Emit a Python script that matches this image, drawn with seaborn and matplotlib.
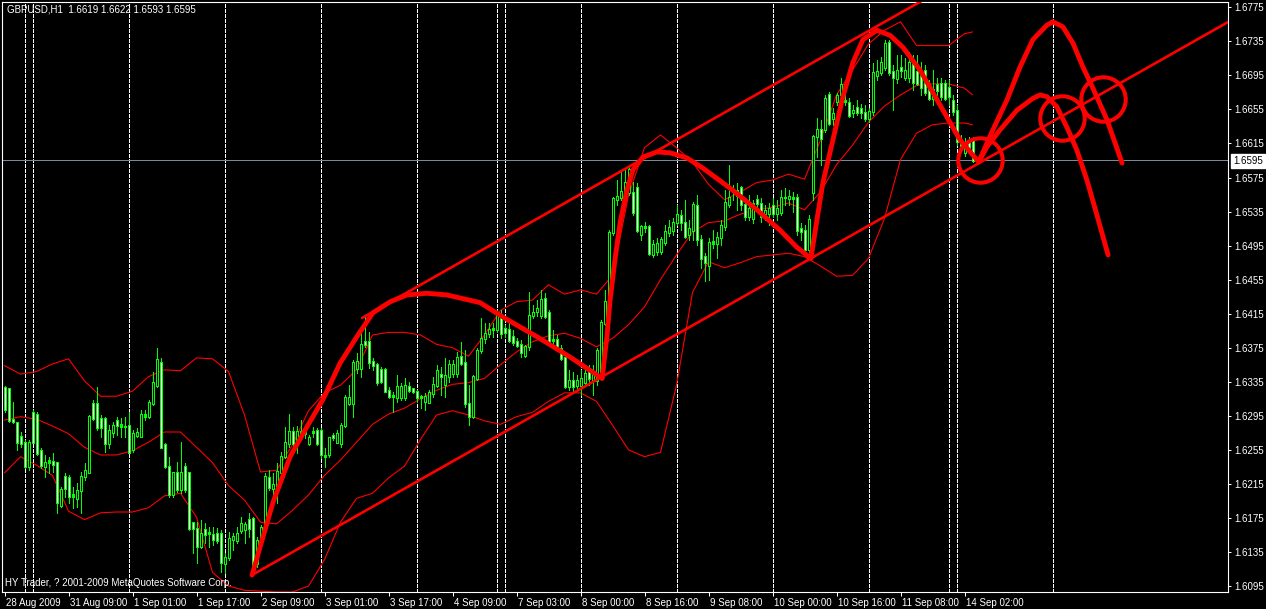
import matplotlib
matplotlib.use("Agg")
import matplotlib.pyplot as plt
import matplotlib.transforms as mtransforms
import numpy as np
import seaborn as sns

# ---------------- data ----------------
# Hourly GBPUSD quotes written in pips: 6328 means 1.6328
open_pips = [
    6328, 6327, 6291, 6287, 6271, 6264, 6236, 6299, 6297, 6254,
    6236, 6242, 6241, 6240, 6190, 6224, 6223, 6200, 6198, 6207,
    6224, 6228, 6310, 6309, 6292, 6292, 6263, 6275, 6290, 6285,
    6283, 6284, 6255, 6272, 6271, 6294, 6294, 6310, 6331, 6358,
    6261, 6236, 6203, 6228, 6208, 6235, 6228, 6170, 6163, 6141,
    6161, 6158, 6156, 6157, 6157, 6122, 6129, 6150, 6149, 6160,
    6162, 6173, 6174, 6122, 6146, 6164, 6223, 6210, 6210, 6228,
    6247, 6262, 6277, 6261, 6276, 6275, 6263, 6276, 6278, 6278,
    6247, 6250, 6272, 6264, 6263, 6284, 6310, 6310, 6351, 6351,
    6382, 6382, 6359, 6355, 6350, 6349, 6325, 6318, 6316, 6316,
    6316, 6330, 6327, 6323, 6318, 6312, 6311, 6321, 6331, 6344,
    6332, 6341, 6345, 6345, 6365, 6358, 6310, 6294, 6339, 6372,
    6386, 6392, 6396, 6396, 6413, 6398, 6396, 6388, 6382, 6379,
    6366, 6376, 6413, 6417, 6413, 6433, 6416, 6385, 6385, 6374,
    6363, 6329, 6336, 6331, 6331, 6334, 6347, 6337, 6337, 6347,
    6404, 6429, 6510, 6549, 6551, 6551, 6557, 6557, 6563, 6508,
    6517, 6517, 6484, 6488, 6488, 6499, 6510, 6513, 6522, 6530,
    6522, 6508, 6513, 6542, 6502, 6482, 6472, 6498, 6498, 6505,
    6517, 6543, 6560, 6560, 6563, 6543, 6529, 6527, 6549, 6545,
    6533, 6533, 6542, 6533, 6534, 6551, 6550, 6552, 6551, 6515,
    6513, 6490, 6557, 6623, 6631, 6631, 6672, 6644, 6664, 6672,
    6666, 6663, 6651, 6657, 6656, 6651, 6644, 6652, 6695, 6698,
    6704, 6734, 6699, 6691, 6704, 6693, 6692, 6710, 6699, 6701,
    6701, 6680, 6668, 6684, 6685, 6685, 6681, 6666, 6654, 6619,
    6604, 6618, 6619]
high_pips = [
    6330, 6328, 6311, 6288, 6276, 6267, 6267, 6302, 6299, 6257,
    6249, 6247, 6251, 6241, 6211, 6228, 6225, 6211, 6216, 6229,
    6240, 6296, 6314, 6329, 6296, 6294, 6284, 6288, 6294, 6292,
    6294, 6299, 6278, 6281, 6302, 6302, 6314, 6347, 6375, 6363,
    6263, 6247, 6229, 6241, 6264, 6240, 6229, 6170, 6170, 6173,
    6169, 6164, 6164, 6163, 6161, 6134, 6158, 6157, 6164, 6176,
    6170, 6181, 6176, 6153, 6167, 6228, 6231, 6228, 6240, 6252,
    6282, 6297, 6282, 6283, 6290, 6282, 6272, 6282, 6281, 6281,
    6257, 6270, 6275, 6278, 6287, 6319, 6331, 6361, 6369, 6392,
    6411, 6393, 6363, 6357, 6352, 6351, 6329, 6323, 6343, 6334,
    6339, 6335, 6328, 6325, 6319, 6322, 6325, 6341, 6355, 6352,
    6363, 6361, 6361, 6370, 6382, 6372, 6331, 6343, 6375, 6410,
    6404, 6404, 6404, 6419, 6419, 6402, 6408, 6396, 6386, 6384,
    6378, 6441, 6425, 6431, 6443, 6439, 6419, 6396, 6390, 6378,
    6366, 6349, 6347, 6343, 6349, 6349, 6355, 6355, 6375, 6408,
    6443, 6513, 6552, 6572, 6584, 6586, 6587, 6570, 6569, 6519,
    6523, 6519, 6502, 6504, 6505, 6519, 6525, 6527, 6543, 6537,
    6549, 6525, 6546, 6554, 6508, 6486, 6504, 6513, 6511, 6525,
    6560, 6590, 6566, 6569, 6565, 6551, 6554, 6549, 6554, 6551,
    6543, 6545, 6551, 6549, 6560, 6563, 6560, 6558, 6556, 6522,
    6519, 6531, 6625, 6645, 6643, 6672, 6675, 6657, 6674, 6692,
    6672, 6668, 6660, 6666, 6661, 6660, 6657, 6710, 6713, 6717,
    6737, 6737, 6707, 6719, 6719, 6715, 6722, 6719, 6719, 6711,
    6707, 6690, 6701, 6692, 6692, 6690, 6690, 6672, 6660, 6625,
    6621, 6623, 6622]
low_pips = [
    6299, 6288, 6287, 6255, 6258, 6234, 6231, 6263, 6249, 6234,
    6223, 6228, 6229, 6181, 6188, 6200, 6193, 6187, 6188, 6181,
    6220, 6228, 6290, 6278, 6270, 6252, 6257, 6270, 6272, 6270,
    6270, 6251, 6252, 6270, 6270, 6290, 6292, 6308, 6329, 6257,
    6234, 6200, 6200, 6206, 6204, 6206, 6161, 6134, 6122, 6140,
    6146, 6141, 6143, 6146, 6111, 6110, 6126, 6137, 6146, 6157,
    6146, 6153, 6111, 6117, 6141, 6163, 6208, 6196, 6193, 6216,
    6245, 6258, 6252, 6251, 6270, 6269, 6261, 6270, 6261, 6245,
    6235, 6247, 6267, 6263, 6258, 6282, 6308, 6294, 6345, 6341,
    6376, 6351, 6349, 6331, 6334, 6323, 6316, 6299, 6311, 6314,
    6314, 6323, 6322, 6311, 6304, 6302, 6310, 6317, 6329, 6319,
    6317, 6335, 6341, 6341, 6355, 6305, 6284, 6292, 6337, 6369,
    6381, 6388, 6388, 6393, 6386, 6388, 6382, 6378, 6376, 6364,
    6364, 6372, 6410, 6412, 6410, 6410, 6378, 6375, 6372, 6361,
    6328, 6325, 6323, 6325, 6319, 6331, 6331, 6319, 6331, 6343,
    6402, 6425, 6508, 6543, 6549, 6549, 6554, 6531, 6511, 6502,
    6511, 6484, 6482, 6484, 6485, 6496, 6506, 6508, 6519, 6513,
    6504, 6502, 6502, 6496, 6469, 6453, 6455, 6492, 6480, 6496,
    6513, 6540, 6549, 6537, 6537, 6525, 6525, 6522, 6539, 6523,
    6525, 6519, 6529, 6525, 6531, 6543, 6543, 6534, 6508, 6502,
    6488, 6488, 6549, 6599, 6590, 6628, 6637, 6637, 6660, 6668,
    6660, 6646, 6646, 6648, 6645, 6641, 6640, 6648, 6690, 6695,
    6701, 6695, 6654, 6686, 6693, 6690, 6687, 6678, 6684, 6672,
    6672, 6666, 6660, 6672, 6666, 6666, 6660, 6648, 6613, 6607,
    6600, 6607, 6593]
close_pips = [
    6302, 6290, 6288, 6264, 6263, 6236, 6264, 6264, 6251, 6237,
    6240, 6240, 6238, 6193, 6208, 6210, 6200, 6202, 6207, 6224,
    6231, 6294, 6292, 6281, 6281, 6263, 6278, 6284, 6284, 6283,
    6282, 6252, 6274, 6275, 6297, 6296, 6311, 6334, 6361, 6258,
    6235, 6203, 6228, 6208, 6228, 6208, 6163, 6163, 6141, 6157,
    6156, 6157, 6150, 6149, 6123, 6129, 6151, 6153, 6157, 6168,
    6167, 6163, 6116, 6149, 6164, 6224, 6211, 6214, 6229, 6247,
    6264, 6277, 6262, 6276, 6274, 6274, 6269, 6275, 6263, 6249,
    6248, 6269, 6269, 6274, 6284, 6317, 6317, 6358, 6359, 6379,
    6379, 6358, 6354, 6334, 6335, 6324, 6318, 6319, 6329, 6329,
    6331, 6325, 6324, 6317, 6316, 6318, 6322, 6332, 6348, 6341,
    6342, 6355, 6355, 6364, 6357, 6310, 6294, 6341, 6372, 6386,
    6392, 6396, 6398, 6413, 6392, 6393, 6384, 6381, 6378, 6369,
    6376, 6413, 6416, 6421, 6432, 6412, 6382, 6383, 6376, 6362,
    6329, 6337, 6330, 6337, 6339, 6345, 6339, 6345, 6372, 6405,
    6429, 6510, 6550, 6553, 6559, 6569, 6584, 6534, 6513, 6517,
    6516, 6486, 6496, 6498, 6502, 6511, 6516, 6522, 6531, 6522,
    6506, 6515, 6543, 6502, 6480, 6475, 6499, 6500, 6504, 6519,
    6546, 6552, 6558, 6554, 6543, 6529, 6539, 6545, 6545, 6529,
    6536, 6538, 6533, 6538, 6552, 6552, 6553, 6550, 6513, 6511,
    6490, 6526, 6623, 6631, 6621, 6668, 6638, 6650, 6671, 6684,
    6664, 6648, 6654, 6651, 6651, 6644, 6652, 6698, 6699, 6710,
    6733, 6698, 6692, 6701, 6701, 6701, 6710, 6687, 6686, 6681,
    6675, 6668, 6678, 6677, 6670, 6668, 6670, 6652, 6617, 6613,
    6616, 6610, 6595]

# Bollinger bands read at every 4th bar
band_bars = list(range(0, 241, 4)) + [242]
band_upper = [
    6354, 6344, 6347, 6356, 6362, 6336, 6318, 6318, 6324, 6341,
    6349, 6348, 6363, 6362, 6347, 6296, 6229, 6231, 6261, 6301,
    6322, 6331, 6349, 6390, 6393, 6393, 6390, 6379, 6375, 6365,
    6390, 6419, 6429, 6431, 6449, 6438, 6443, 6438, 6460, 6554,
    6610, 6625, 6610, 6593, 6567, 6549, 6558, 6569, 6572, 6579,
    6573, 6619, 6672, 6701, 6732, 6748, 6758, 6730, 6730, 6730,
    6744, 6746]
band_middle = [
    6290, 6294, 6291, 6283, 6274, 6258, 6249, 6249, 6254, 6264,
    6276, 6276, 6258, 6240, 6213, 6196, 6170, 6168, 6184, 6202,
    6225, 6243, 6264, 6285, 6297, 6304, 6315, 6325, 6332, 6334,
    6339, 6355, 6370, 6382, 6389, 6392, 6386, 6376, 6386, 6402,
    6423, 6455, 6484, 6511, 6522, 6524, 6532, 6537, 6540, 6545,
    6537, 6558, 6590, 6613, 6640, 6659, 6672, 6683, 6685, 6685,
    6680, 6672]
band_lower = [
    6228, 6247, 6237, 6225, 6183, 6173, 6181, 6182, 6182, 6187,
    6201, 6204, 6176, 6111, 6095, 6090, 6089, 6088, 6088, 6095,
    6126, 6170, 6198, 6204, 6222, 6236, 6267, 6296, 6301, 6296,
    6289, 6285, 6294, 6299, 6312, 6322, 6322, 6312, 6284, 6255,
    6247, 6252, 6331, 6440, 6476, 6469, 6475, 6482, 6484, 6486,
    6482, 6471, 6459, 6460, 6480, 6527, 6596, 6627, 6637, 6639,
    6639, 6637]

# channel (two anchors of the lower line, start of the parallel upper line)
channel_lower_bars = [61.9, 201.6]
channel_lower_pips = [6108, 6480]
channel_upper_bar = 89.4
channel_upper_pip = 6410

# hand drawn wave arcs (bar, pips)
arc1_bars = [61.9, 63.9, 67.1, 71.4, 75.6, 79.6, 83.9, 88.1, 92.1, 96.4, 100.6, 105.6,
             110.6, 118.9, 124.6, 133.1, 141.4, 149.4]
arc1_pips = [6108, 6141, 6193, 6247, 6282, 6314, 6357, 6388, 6416, 6429, 6437, 6439,
             6437, 6428, 6411, 6388, 6364, 6339]
arc2_bars = [149.4, 150.6, 151.4, 152.6, 153.9, 155.6, 157.1, 159.6, 163.1, 166.4, 170.6,
             174.6, 182.1, 188.1, 193.9, 198.1, 201.6]
arc2_pips = [6339, 6388, 6431, 6478, 6522, 6560, 6584, 6599, 6605, 6604, 6598,
             6586, 6560, 6537, 6513, 6493, 6480]
arc3_bars = [201.6, 203.1, 204.6, 207.1, 209.6, 212.1, 214.6, 218.1, 221.4, 224.6, 228.9,
             233.9, 238.9, 243.6]
arc3_pips = [6480, 6525, 6569, 6619, 6670, 6710, 6737, 6748, 6742, 6728, 6701,
             6660, 6619, 6593]
arc4_bars = [243.6, 247.1, 250.6, 253.9, 257.1, 260.6, 262.1, 264.6, 267.1, 269.6, 272.1,
             275.6, 279.4]
arc4_pips = [6594, 6631, 6666, 6705, 6737, 6754, 6758, 6752, 6733, 6705, 6680, 6643, 6592]
arc5_bars = [243.9, 245.6, 248.9, 253.1, 257.1, 258.9, 260.6, 263.1, 265.6, 268.1, 270.6,
             273.1, 275.9]
arc5_pips = [6596, 6611, 6631, 6654, 6668, 6672, 6670, 6658, 6634, 6607, 6572, 6531, 6484]
circle_bars = [243.9, 264.4, 274.6]
circle_pips = [6596, 6645, 6667]

day_separator_bars = [5, 7, 31, 55, 79, 103, 123, 125, 144, 168, 192, 216, 236, 238, 262]
date_label_bars = [0, 16, 32, 48, 64, 80, 96, 112, 128, 144, 160, 176, 192, 208, 224, 240]
date_labels = ["28 Aug 2009", "31 Aug 09:00", "1 Sep 01:00", "1 Sep 17:00", "2 Sep 09:00",
               "3 Sep 01:00", "3 Sep 17:00", "4 Sep 09:00", "7 Sep 03:00", "8 Sep 00:00",
               "8 Sep 16:00", "9 Sep 08:00", "10 Sep 00:00", "10 Sep 16:00",
               "11 Sep 08:00", "14 Sep 02:00"]
price_ticks = [1.6095, 1.6135, 1.6175, 1.6215, 1.6255, 1.6295, 1.6335, 1.6375, 1.6415,
               1.6455, 1.6495, 1.6535, 1.6575, 1.6615, 1.6655, 1.6695, 1.6735, 1.6775]
bid_price = 1.6595
title_text = "GBPUSD,H1  1.6619 1.6622 1.6593 1.6595"
footer_text = "HY Trader, ? 2001-2009 MetaQuotes Software Corp."


def to_price(p):
    return 1.0 + np.asarray(p, dtype=float) / 10000.0


# ---------------- styling ----------------
sns.set_style("dark", {"axes.facecolor": "black", "figure.facecolor": "black"})
plt.rcParams["font.family"] = ["Liberation Sans", "DejaVu Sans"]

RED = "#FF0000"
LIME = "#00FF00"
W, H = 1266, 609
L, R, T, B = 2, 1228, 2, 592
PT_PER_PX = 72.0 / 100.0

fig = plt.figure(figsize=(W / 100, H / 100), dpi=100, facecolor="black")
ax = fig.add_axes([L / W, 1 - B / H, (R - L) / W, (B - T) / H])
ax.set_facecolor("black")
ax.grid(False)

BAR_PX = 4.0
x0 = -(4.5 - L) / BAR_PX
ax.set_xlim(x0, x0 + (R - L) / BAR_PX)
ylo, yhi = 1.60880, 1.67812
ax.set_ylim(ylo, yhi)
one_px = (yhi - ylo) / (B - T)

# period separators
ax.vlines(day_separator_bars, ylo, yhi, colors="white", linewidth=PT_PER_PX,
          linestyles=(0, (3, 2)), zorder=1, antialiased=False)

# bid line
ax.axhline(bid_price, color="#7C8898", linewidth=PT_PER_PX, zorder=1.5, antialiased=False)

# Bollinger bands
for band in (band_upper, band_middle, band_lower):
    sns.lineplot(x=band_bars, y=to_price(band), ax=ax, color=RED, linewidth=0.8,
                 sort=False, legend=False, zorder=2)

# candles: lime outline, black body for rising bars, white body for falling bars
O, Hh, Lw, C = (to_price(v) for v in (open_pips, high_pips, low_pips, close_pips))
xs = np.arange(len(O))
lo = np.minimum(O, C)
hi = np.maximum(O, C)
ax.vlines(xs, Lw, Hh, colors=LIME, linewidth=PT_PER_PX, zorder=3, antialiased=False)
body = ax.vlines(xs, lo - 0.5 * one_px, hi + 0.5 * one_px, colors=LIME,
                 linewidth=3 * PT_PER_PX, zorder=3.1, antialiased=False)
body.set_capstyle("butt")
tall = (hi - lo) > 2.0 * one_px
fills = np.where(C < O, "white", "black")
inner = ax.vlines(xs[tall], lo[tall] + 0.5 * one_px, hi[tall] - 0.5 * one_px,
                  colors=list(fills[tall]), linewidth=PT_PER_PX, zorder=3.2,
                  antialiased=False)
inner.set_capstyle("butt")

# channel lines (rays to the right border)
xr = ax.get_xlim()[1]
slope = (channel_lower_pips[1] - channel_lower_pips[0]) / (channel_lower_bars[1] - channel_lower_bars[0])
ax.plot([channel_lower_bars[0], xr],
        to_price([channel_lower_pips[0], channel_lower_pips[0] + slope * (xr - channel_lower_bars[0])]),
        color=RED, linewidth=1.9, zorder=4)
ax.plot([channel_upper_bar, xr],
        to_price([channel_upper_pip, channel_upper_pip + slope * (xr - channel_upper_bar)]),
        color=RED, linewidth=1.9, zorder=4)

# wave arcs
for bx, by in ((arc1_bars, arc1_pips), (arc2_bars, arc2_pips), (arc3_bars, arc3_pips),
               (arc4_bars, arc4_pips), (arc5_bars, arc5_pips)):
    ax.plot(bx, to_price(by), color=RED, linewidth=3.5, solid_capstyle="round",
            solid_joinstyle="round", zorder=5)

# circles
ax.plot(circle_bars, to_price(circle_pips), linestyle="none", marker="o", markersize=32,
        markerfacecolor="none", markeredgecolor=RED, markeredgewidth=2.9, zorder=6)

# axes frame & ticks
for s in ax.spines.values():
    s.set_color("white")
    s.set_linewidth(0.8)
    s.set_visible(True)
ax.yaxis.tick_right()
ax.set_yticks(price_ticks)
ax.set_yticklabels([f"{p:.4f}" for p in price_ticks])
ax.tick_params(axis="y", colors="white", labelcolor="white", labelsize=7, length=2.5,
               width=0.75, pad=2, direction="out", right=True, left=False)
ax.set_xticks(date_label_bars)
ax.set_xticklabels(date_labels, ha="left")
ax.tick_params(axis="x", colors="white", labelcolor="white", labelsize=7, length=3,
               width=0.75, pad=1.5, direction="out", bottom=True)
shift = mtransforms.ScaledTranslation(1.5 / 100, 0, fig.dpi_scale_trans)
for lab in ax.get_xticklabels():
    lab.set_transform(lab.get_transform() + shift)
ax.set_xlabel("")
ax.set_ylabel("")

# texts
fig.text(7 / W, 1 - 10 / H, title_text, color="white", fontsize=7, ha="left", va="center")
fig.text(5 / W, 1 - 583 / H, footer_text, color="white", fontsize=7, ha="left", va="center")
fig.text(1233 / W, 1 - 161 / H, f"{bid_price:.4f}", color="black", fontsize=7,
         ha="left", va="center",
         bbox=dict(boxstyle="square,pad=0.18", facecolor="white", edgecolor="white"))

fig.savefig("out.png", dpi=100, facecolor="black")
